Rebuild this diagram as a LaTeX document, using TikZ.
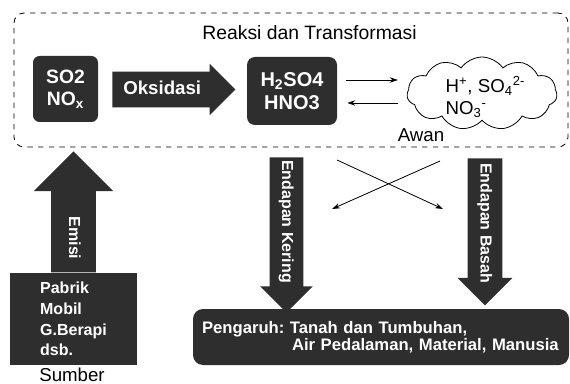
\documentclass[tikz,border=0pt]{standalone}
\usepackage{fontspec}
\setmainfont{Liberation Sans}
\usetikzlibrary{shapes.arrows,shapes.symbols,arrows.meta,calc}
\begin{document}
\frenchspacing
\begin{tikzpicture}[x=0.75pt,y=-0.75pt,
    kotak/.style={fill=black!82,text=white,align=center,inner sep=0pt},
    panah/.style={single arrow,fill=black!82,text=white,font=\fontsize{12}{14}\bfseries,
      single arrow head extend=#1,text height=9pt,text depth=2.5pt,inner xsep=2pt},
    teks/.style={font=\fontsize{14}{16.8}\selectfont},
    tipis/.style={-{Stealth[length=6pt,width=4pt]},line width=0.6pt}]
  \useasboundingbox (0,0) rectangle (570,384);
  \node[draw,dash pattern=on 4pt off 4pt,rounded corners=7.5pt,line width=0.6pt,
    minimum width=415.5pt,minimum height=100.5pt] (reaksi) at (291,80) {};
  \node[teks,font=\fontsize{14.5}{17}\selectfont] (judul) at (309.5,33) {Reaksi dan Transformasi};
  \node[kotak,rounded corners=5pt,minimum width=48.75pt,minimum height=49.5pt,
    font=\fontsize{14.5}{16.5}\bfseries] (so) at (65.5,89) {SO2\\NO\textsubscript{x}};
  \node[panah=6pt,minimum height=92.25pt,inner ysep=7.125pt,font=\fontsize{14}{16}\bfseries,
    text height=10pt,text depth=2pt,anchor=tail] (oks) at (112,89.5) {Oksidasi\hspace*{4pt}};
  \node[kotak,rounded corners=6pt,minimum width=67.5pt,minimum height=51pt,
    font=\fontsize{15}{17}\bfseries] (hso) at (292,91) {H\textsubscript{2}SO4\\HNO3};
  \node[cloud,draw,cloud puffs=11,cloud puff arc=110,aspect=2,line width=0.6pt,inner sep=0pt,
    minimum width=112.5pt,minimum height=54.75pt] (awan) at (482,93.5) {};
  \node[teks,align=left,anchor=west] (ion) at (441,97)
    {H\textsuperscript{+}, SO\textsubscript{4}\textsuperscript{2-}\\NO\textsubscript{3}\textsuperscript{-}};
  \node[teks] (awanteks) at (421,135) {Awan};
  \draw[tipis] ($(hso.east)+(9,-11)$) -- ($(hso.east -| awan.west)+(-9,-11)$);
  \draw[tipis] ($(hso.east -| awan.west)+(-9,12)$) -- ($(hso.east)+(10,12)$);
  \node[kotak,align=left,minimum width=95.25pt,minimum height=69pt,
    font=\fontsize{12}{15.5}\bfseries] (sumber) at (73.5,319) {Pabrik\\Mobil\\G.Berapi\\dsb.};
  \node[teks] (sumberteks) at (72,375) {Sumber};
  \node[panah=13.125pt,shape border rotate=180,rotate=-90,minimum height=90.75pt,
    inner ysep=10.75pt,anchor=tail] (emisi) at (sumber.north) {\hspace*{22.5pt}Emisi};
  \node[panah=7.125pt,rotate=-90,minimum height=109.5pt,inner ysep=6.625pt,anchor=tail]
    (kering) at (286.5,157) {Endapan Kering\hspace*{7.5pt}};
  \node[panah=7.5pt,rotate=-90,minimum height=110.25pt,inner ysep=7pt,anchor=tail]
    (basah) at (485,158) {Endapan Basah};
  \node[kotak,rounded corners=7.5pt,align=left,minimum width=282pt,minimum height=42pt,
    text width=268.5pt,inner xsep=6.75pt,font=\fontsize{12.5}{12.5}\bfseries] (pengaruh) at (381,337)
    {Pengaruh: Tanah dan Tumbuhan,\\\hspace*{67.5pt}Air Pedalaman, Material, Manusia};
  \coordinate (k1) at (337,160);
  \coordinate (k2) at (443,209);
  \coordinate (k3) at (440,161);
  \coordinate (k4) at (332,209);
  \draw[tipis] (k1) -- (k2);
  \draw[tipis] (k3) -- (k4);
\end{tikzpicture}
\end{document}
